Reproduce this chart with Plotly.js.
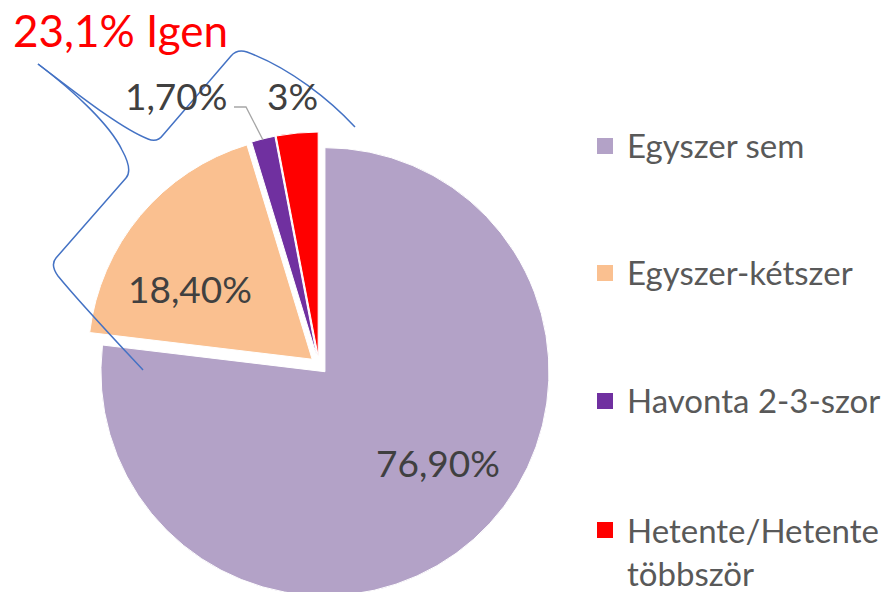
<!DOCTYPE html>
<html>
<head>
<meta charset="utf-8">
<script src="https://cdn.plot.ly/plotly-3.0.1.min.js"></script>
<style>
html,body{margin:0;padding:0;overflow:hidden;background:#fff;}
#chart{width:891px;height:620px;}
</style>
</head>
<body>
<div id="chart"></div>
<script>
// ---- data ----
const categories = ['Egyszer sem', 'Egyszer-kétszer', 'Havonta 2-3-szor', 'Hetente/Hetente többször'];
const values = [76.9, 18.4, 1.7, 3];
const valueLabels = ['76,90%', '18,40%', '1,70%', '3%'];
const legendLabels = ['Egyszer sem', 'Egyszer-kétszer', 'Havonta 2-3-szor', 'Hetente/Hetente<br>többször'];
const sliceColors = ['#B3A2C7', '#FAC090', '#7030A0', '#FF0000'];
const titleText = '23,1% Igen';

// ---- layout helpers (pixel -> paper) ----
const W = 891, H = 620;
const px = x => x / W;
const py = y => 1 - y / H;
function pathFrom(cmds) {
  return cmds.map(c => c[0] + ' ' + c.slice(1).reduce((acc, v, i) => {
    acc.push(i % 2 === 0 ? px(v).toFixed(5) : py(v).toFixed(5));
    return acc;
  }, []).join(' ')).join(' ');
}

const pieCx = 319, pieCy = 365, half = 233;

const trace = {
  type: 'pie',
  labels: categories,
  values: values,
  sort: false,
  direction: 'clockwise',
  rotation: 0,
  pull: [0.04, 0.04, 0.04, 0.04],
  textinfo: 'none',
  hoverinfo: 'label+percent',
  marker: { colors: sliceColors, line: { color: '#FFFFFF', width: 1 } },
  showlegend: false,
  domain: { x: [px(pieCx - half), px(pieCx + half)], y: [py(pieCy + half), py(pieCy - half)] }
};

const labelPos = [[438, 462], [190, 288], [176, 96], [292, 96]];
const annotations = [];
valueLabels.forEach((t, i) => {
  annotations.push({
    xref: 'paper', yref: 'paper', x: px(labelPos[i][0]), y: py(labelPos[i][1]),
    xanchor: 'center', yanchor: 'middle', showarrow: false, text: t,
    font: { family: 'Lato, sans-serif', size: 37, color: '#404040' }
  });
});

annotations.push({
  xref: 'paper', yref: 'paper', x: px(11), y: py(30),
  xanchor: 'left', yanchor: 'middle', showarrow: false, text: titleText,
  font: { family: 'Lato, sans-serif', size: 44, color: '#FF0000' }
});

// legend built from categories/colors
const legendY = [146, 273, 401, 530];
const shapes = [];
legendLabels.forEach((t, i) => {
  const multi = t.indexOf('<br>') >= 0;
  annotations.push({
    xref: 'paper', yref: 'paper', x: px(625), y: py(legendY[i] - 1 + (multi ? 22 : 0)),
    xanchor: 'left', yanchor: 'middle', align: 'left', showarrow: false, text: t,
    font: { family: 'Lato, sans-serif', size: 33, color: '#595959' }
  });
  shapes.push({
    type: 'rect', xref: 'paper', yref: 'paper',
    x0: px(597), x1: px(613), y0: py(legendY[i] - 8), y1: py(legendY[i] + 8),
    fillcolor: sliceColors[i], line: { width: 0 }
  });
});

// leader line for 1,70%
shapes.push({
  type: 'path', xref: 'paper', yref: 'paper',
  path: pathFrom([['M', 234, 107], ['L', 246, 107], ['L', 263, 140]]),
  line: { color: '#A6A6A6', width: 1.3 }
});

// blue braces
shapes.push({
  type: 'path', xref: 'paper', yref: 'paper',
  path: pathFrom([
    ['M', 38, 64], ['C', 75, 92, 120, 128, 148, 139], ['Q', 157, 143, 163, 135],
    ['L', 231, 56], ['Q', 237, 49, 247, 52], ['C', 290, 68, 330, 100, 355, 127]
  ]),
  line: { color: '#4472C4', width: 1.5 }
});
shapes.push({
  type: 'path', xref: 'paper', yref: 'paper',
  path: pathFrom([
    ['M', 38, 64], ['C', 75, 92, 110, 125, 122, 150], ['Q', 133, 170, 126, 178],
    ['L', 56, 258], ['Q', 50, 265, 58, 276], ['C', 80, 303, 115, 340, 143, 370]
  ]),
  line: { color: '#4472C4', width: 1.5 }
});

const layout = {
  width: W, height: H,
  margin: { l: 0, r: 0, t: 0, b: 0 },
  paper_bgcolor: '#FFFFFF',
  showlegend: false,
  annotations: annotations,
  shapes: shapes
};

Plotly.newPlot('chart', [trace], layout, { staticPlot: true, displayModeBar: false });
</script>
</body>
</html>
